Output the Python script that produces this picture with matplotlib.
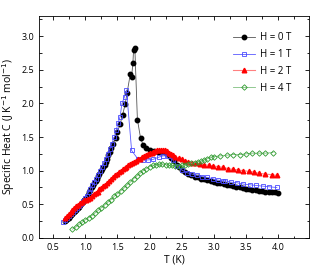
import matplotlib.pyplot as plt
from matplotlib.ticker import MultipleLocator

plt.rcParams['font.family'] = ['Open Sans', 'DejaVu Sans']

# H = 0 T
t0 = [0.68, 0.70, 0.72, 0.74, 0.76, 0.78, 0.80, 0.82, 0.84, 0.86, 0.88, 0.90, 0.92, 0.94, 0.96, 0.98,
      1.00, 1.02, 1.04, 1.06, 1.08, 1.10, 1.12, 1.14, 1.16, 1.18, 1.20, 1.22, 1.24, 1.26, 1.28, 1.30,
      1.32, 1.34, 1.36, 1.38, 1.40, 1.43, 1.47, 1.50, 1.54, 1.58, 1.62, 1.65, 1.70, 1.72, 1.74, 1.75,
      1.77, 1.81, 1.86, 1.90, 1.95, 2.01, 2.07, 2.13, 2.19, 2.25, 2.30, 2.34, 2.38, 2.42, 2.46, 2.50,
      2.55, 2.60, 2.65, 2.70, 2.75, 2.80, 2.85, 2.90, 2.95, 3.00, 3.05, 3.10, 3.15, 3.20, 3.25, 3.30,
      3.35, 3.40, 3.45, 3.50, 3.55, 3.60, 3.65, 3.70, 3.75, 3.80, 3.85, 3.90, 3.95, 4.00]
c0 = [0.25, 0.26, 0.28, 0.30, 0.32, 0.34, 0.36, 0.38, 0.40, 0.42, 0.44, 0.46, 0.49, 0.51, 0.54, 0.56,
      0.58, 0.61, 0.64, 0.68, 0.71, 0.75, 0.78, 0.81, 0.85, 0.88, 0.92, 0.95, 0.99, 1.02, 1.06, 1.09,
      1.13, 1.18, 1.23, 1.28, 1.33, 1.40, 1.48, 1.58, 1.69, 1.83, 1.99, 2.16, 2.44, 2.40, 2.60, 2.79,
      2.83, 1.76, 1.48, 1.38, 1.34, 1.31, 1.29, 1.28, 1.28, 1.27, 1.24, 1.19, 1.14, 1.09, 1.05, 1.01,
      0.98, 0.95, 0.93, 0.91, 0.90, 0.88, 0.87, 0.86, 0.84, 0.83, 0.82, 0.81, 0.80, 0.79, 0.78, 0.77,
      0.76, 0.75, 0.74, 0.73, 0.72, 0.71, 0.71, 0.70, 0.70, 0.69, 0.69, 0.68, 0.68, 0.67]

# H = 1 T
t1 = [0.66, 0.69, 0.72, 0.75, 0.78, 0.81, 0.84, 0.87, 0.90, 0.93, 0.96, 0.99, 1.02, 1.05, 1.08, 1.11,
      1.14, 1.17, 1.20, 1.23, 1.26, 1.29, 1.32, 1.35, 1.38, 1.41, 1.45, 1.48, 1.51, 1.54, 1.57, 1.61,
      1.64, 1.72, 1.82, 1.90, 1.98, 2.06, 2.14, 2.21, 2.29, 2.36, 2.43, 2.50, 2.58, 2.66, 2.74, 2.82,
      2.90, 2.98, 3.06, 3.14, 3.18, 3.26, 3.36, 3.46, 3.56, 3.66, 3.76, 3.86, 3.98]
c1 = [0.24, 0.27, 0.30, 0.33, 0.36, 0.39, 0.42, 0.45, 0.48, 0.51, 0.55, 0.59, 0.63, 0.68, 0.73, 0.78,
      0.83, 0.88, 0.94, 0.99, 1.05, 1.11, 1.18, 1.25, 1.32, 1.40, 1.50, 1.60, 1.71, 1.80, 2.00, 2.10,
      2.20, 1.30, 1.17, 1.16, 1.16, 1.17, 1.20, 1.22, 1.22, 1.16, 1.07, 1.01, 0.97, 0.95, 0.93, 0.91,
      0.90, 0.88, 0.86, 0.85, 0.85, 0.83, 0.82, 0.80, 0.79, 0.78, 0.77, 0.76, 0.75]

# H = 2 T
t2 = [0.68, 0.71, 0.74, 0.77, 0.80, 0.83, 0.86, 0.89, 0.92, 0.95, 0.98, 1.01, 1.04, 1.07, 1.10, 1.13,
      1.16, 1.19, 1.22, 1.25, 1.28, 1.31, 1.34, 1.37, 1.40, 1.43, 1.46, 1.49, 1.52, 1.55, 1.58, 1.61,
      1.64, 1.67, 1.70, 1.73, 1.76, 1.79, 1.82, 1.85, 1.88, 1.91, 1.94, 1.97, 2.00, 2.03, 2.06, 2.09,
      2.12, 2.15, 2.18, 2.21, 2.24, 2.27, 2.30, 2.33, 2.36, 2.40, 2.45, 2.50, 2.55, 2.60, 2.66, 2.72,
      2.78, 2.85, 2.92, 2.99, 3.07, 3.14, 3.22, 3.30, 3.38, 3.46, 3.54, 3.62, 3.70, 3.80, 3.90, 3.98]
c2 = [0.29, 0.32, 0.35, 0.38, 0.41, 0.44, 0.47, 0.49, 0.52, 0.54, 0.56, 0.57, 0.58, 0.60, 0.62, 0.65,
      0.67, 0.69, 0.72, 0.74, 0.77, 0.79, 0.82, 0.85, 0.88, 0.90, 0.93, 0.95, 0.98, 1.00, 1.02, 1.04,
      1.06, 1.08, 1.10, 1.12, 1.13, 1.15, 1.17, 1.18, 1.20, 1.22, 1.23, 1.25, 1.26, 1.27, 1.28, 1.29,
      1.30, 1.31, 1.31, 1.31, 1.30, 1.29, 1.27, 1.25, 1.23, 1.21, 1.19, 1.17, 1.15, 1.13, 1.12, 1.11,
      1.10, 1.09, 1.08, 1.07, 1.06, 1.05, 1.03, 1.02, 1.01, 1.00, 0.99, 0.98, 0.96, 0.95, 0.94, 0.93]

# H = 4 T
t4 = [0.80, 0.85, 0.90, 0.95, 1.00, 1.05, 1.10, 1.15, 1.20, 1.25, 1.30, 1.35, 1.40, 1.45, 1.50, 1.55,
      1.60, 1.65, 1.70, 1.75, 1.80, 1.85, 1.90, 1.95, 2.00, 2.05, 2.10, 2.15, 2.20, 2.25, 2.30, 2.35,
      2.40, 2.45, 2.50, 2.55, 2.60, 2.65, 2.70, 2.75, 2.80, 2.85, 2.90, 2.95, 3.00, 3.10, 3.20, 3.30,
      3.40, 3.50, 3.60, 3.70, 3.80, 3.92]
c4 = [0.13, 0.16, 0.20, 0.23, 0.27, 0.30, 0.33, 0.37, 0.41, 0.45, 0.49, 0.53, 0.57, 0.62, 0.66, 0.70,
      0.74, 0.79, 0.83, 0.88, 0.92, 0.96, 1.00, 1.03, 1.06, 1.08, 1.09, 1.10, 1.10, 1.09, 1.08, 1.08,
      1.07, 1.07, 1.08, 1.09, 1.10, 1.11, 1.12, 1.13, 1.14, 1.16, 1.18, 1.20, 1.21, 1.22, 1.23, 1.24,
      1.24, 1.25, 1.26, 1.26, 1.26, 1.27]

fig = plt.figure(figsize=(3.15, 2.76), dpi=100)
ax = fig.add_axes([0.124, 0.138, 0.857, 0.804])

ax.plot(t0, c0, color='#555555', lw=0.6, marker='o', ms=3.2, mfc='black', mec='black', label='H = 0 T')
ax.plot(t1, c1, color='#5a5aff', lw=0.6, marker='s', ms=3.3, mfc='none', mec='#4a4aff', mew=0.6, label='H = 1 T')
ax.plot(t2, c2, color='#ff8080', lw=0.8, marker='^', ms=3.3, mfc='red', mec='red', label='H = 2 T')
ax.plot(t4, c4, color='#80c080', lw=0.6, marker='D', ms=2.8, mfc='none', mec='#2e9a2e', mew=0.6, label='H = 4 T')

ax.set_xlim(0.28, 4.48)
ax.set_ylim(0, 3.3)
ax.xaxis.set_major_locator(MultipleLocator(0.5))
ax.xaxis.set_minor_locator(MultipleLocator(0.25))
ax.yaxis.set_major_locator(MultipleLocator(0.5))
ax.yaxis.set_minor_locator(MultipleLocator(0.25))
ax.tick_params(which='both', direction='in', top=True, right=True, labelsize=6.5, width=0.6)
ax.tick_params(which='major', length=3)
ax.tick_params(which='minor', length=1.8)
for s in ax.spines.values():
    s.set_linewidth(0.6)

ax.set_xlabel('T (K)', fontsize=7.5, labelpad=2)
ax.set_ylabel('Specific Heat C (J K$^{-1}$ mol$^{-1}$)', fontsize=7.5, labelpad=3)
ax.legend(loc='upper right', bbox_to_anchor=(0.95, 0.945), frameon=False, fontsize=7,
          handlelength=2.3, labelspacing=0.6, handletextpad=0.5, borderaxespad=0)

fig.savefig('out.png', dpi=100)
